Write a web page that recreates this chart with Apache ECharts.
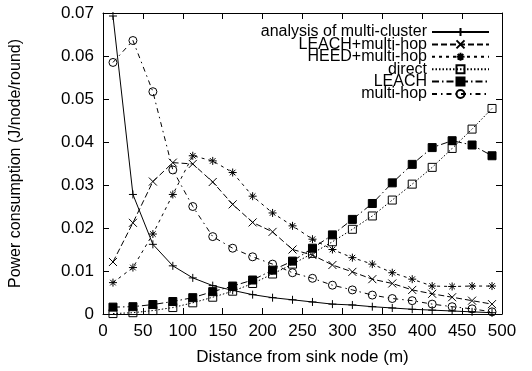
<!DOCTYPE html>
<html>
<head>
<meta charset="utf-8">
<script src="https://cdn.jsdelivr.net/npm/echarts@6/dist/echarts.min.js"></script>
<style>
  html, body { margin: 0; padding: 0; background: #fff; }
  #chart { width: 532px; height: 371px; }
</style>
</head>
<body>
<div id="chart"></div>
<script>
// distance from sink (m), one point every 25 m
var distances = [12.5, 37.5, 62.5, 87.5, 112.5, 137.5, 162.5, 187.5, 212.5, 237.5,
  262.5, 287.5, 312.5, 337.5, 362.5, 387.5, 412.5, 437.5, 462.5, 487.5]

var analysisMultiCluster = [0.0693, 0.0278, 0.0162, 0.0112, 0.0084, 0.0066, 0.0055, 0.0045, 0.0038, 0.0033,
  0.0028, 0.0023, 0.0021, 0.0017, 0.0014, 0.0011, 0.0009, 0.0007, 0.0005, 0.0003]
var leachMultiHop = [0.0121, 0.0212, 0.0308, 0.0352, 0.0349, 0.0307, 0.0255, 0.0213, 0.0191, 0.0150,
  0.0137, 0.0114, 0.0098, 0.0081, 0.0071, 0.0056, 0.0047, 0.0039, 0.0031, 0.0023]
var heedMultiHop = [0.0073, 0.0108, 0.0186, 0.0278, 0.0368, 0.0356, 0.0329, 0.0274, 0.0235, 0.0205,
  0.0174, 0.0150, 0.0131, 0.0116, 0.0096, 0.0081, 0.0065, 0.0064, 0.0065, 0.0065]
var direct = [0.0001, 0.0003, 0.0008, 0.0015, 0.0026, 0.0039, 0.0053, 0.0071, 0.0093, 0.0116,
  0.0141, 0.0168, 0.0197, 0.0228, 0.0265, 0.0302, 0.0341, 0.0385, 0.0430, 0.0478]
var leach = [0.0016, 0.0017, 0.0022, 0.0029, 0.0038, 0.0052, 0.0065, 0.0079, 0.0102, 0.0123,
  0.0153, 0.0184, 0.0220, 0.0257, 0.0305, 0.0348, 0.0387, 0.0403, 0.0393, 0.0368]
var multiHop = [0.0585, 0.0636, 0.0517, 0.0335, 0.0250, 0.0180, 0.0153, 0.0133, 0.0116, 0.0096,
  0.0083, 0.0067, 0.0056, 0.0044, 0.0036, 0.0031, 0.0023, 0.0017, 0.0012, 0.0005]

var FONT = 'Liberation Sans, Arial, Helvetica, sans-serif'

// gnuplot style point types
var PLUS = 'path://M0,5L10,5M5,0L5,10'
var CROSS = 'path://M0,0L10,10M10,0L0,10'
var STAR = 'path://M0,5L10,5M5,0L5,10M1.5,1.5L8.5,8.5M8.5,1.5L1.5,8.5'

function pairs(ys) {
  return distances.map(function (x, i) { return [x, ys[i]] })
}

function mkSeries(name, ys, symbol, size, fill, dash) {
  return {
    name: name,
    type: 'line',
    data: pairs(ys),
    symbol: symbol,
    symbolSize: size,
    showAllSymbol: true,
    xAxisIndex: 0,
    yAxisIndex: 0,
    lineStyle: { color: '#000', width: 1, type: dash },
    itemStyle: { color: fill, borderColor: '#000', borderWidth: 1 },
    emphasis: { disabled: true },
    z: 3
  }
}

var chart = echarts.init(document.getElementById('chart'), null, { renderer: 'canvas' })

var tickCommon = { show: true, inside: true, length: 6, lineStyle: { color: '#000', width: 1 } }
var lineCommon = { show: true, onZero: false, lineStyle: { color: '#000', width: 1 } }

var option = {
  animation: false,
  backgroundColor: '#fff',
  textStyle: { fontFamily: FONT },
  grid: { left: 102, right: 30, top: 13, bottom: 57 },
  legend: {
    orient: 'vertical',
    align: 'right',
    right: 42,
    top: 24,
    padding: 0,
    itemGap: -3.6,
    itemWidth: 57,
    itemHeight: 10,
    selectedMode: false,
    textStyle: { fontFamily: FONT, fontSize: 16, color: '#000', lineHeight: 13 },
    data: ['analysis of multi-cluster', 'LEACH+multi-hop', 'HEED+multi-hop', 'direct', 'LEACH', 'multi-hop']
  },
  xAxis: [
    {
      type: 'value', position: 'bottom', min: 0, max: 500, interval: 50,
      name: 'Distance from sink node (m)', nameLocation: 'middle', nameGap: 35,
      nameTextStyle: { fontFamily: FONT, fontSize: 17, color: '#000' },
      axisLine: lineCommon, axisTick: tickCommon,
      axisLabel: { fontFamily: FONT, fontSize: 17, color: '#000', margin: 9 },
      splitLine: { show: false }
    },
    {
      type: 'value', position: 'top', min: 0, max: 500, interval: 50,
      axisLine: lineCommon, axisTick: tickCommon,
      axisLabel: { show: false }, splitLine: { show: false }
    }
  ],
  yAxis: [
    {
      type: 'value', position: 'left', min: 0, max: 0.07, interval: 0.01,
      name: 'Power consumption (J/node/round)', nameLocation: 'middle', nameGap: 79,
      nameTextStyle: { fontFamily: FONT, fontSize: 16, color: '#000' },
      axisLine: lineCommon, axisTick: tickCommon,
      axisLabel: {
        fontFamily: FONT, fontSize: 17, color: '#000', margin: 9,
        formatter: function (v) { return v === 0 ? '0' : v.toFixed(2) }
      },
      splitLine: { show: false }
    },
    {
      type: 'value', position: 'right', min: 0, max: 0.07, interval: 0.01,
      axisLine: lineCommon, axisTick: tickCommon,
      axisLabel: { show: false }, splitLine: { show: false }
    }
  ],
  series: [
    mkSeries('analysis of multi-cluster', analysisMultiCluster, PLUS, 8, 'none', 'solid'),
    mkSeries('LEACH+multi-hop', leachMultiHop, CROSS, 8, 'none', [6, 3]),
    mkSeries('HEED+multi-hop', heedMultiHop, STAR, 8, 'none', [3, 4]),
    mkSeries('direct', direct, 'rect', 8, 'none', [1.5, 2]),
    mkSeries('LEACH', leach, 'rect', 8, '#000', [7, 3, 1.5, 3]),
    mkSeries('multi-hop', multiHop, 'circle', 8, 'none', [5, 4, 1.5, 4])
  ]
}

chart.setOption(option)
</script>
</body>
</html>
